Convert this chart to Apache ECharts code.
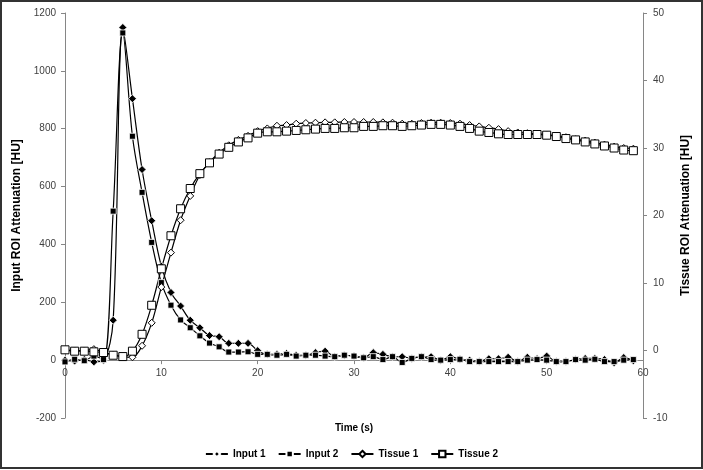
<!DOCTYPE html>
<html>
<head>
<meta charset="utf-8">
<script src="https://cdn.jsdelivr.net/npm/echarts@6/dist/echarts.min.js"></script>
<style>
  html, body { margin: 0; padding: 0; background: #fff; }
  #chart { width: 703px; height: 470px; }
</style>
</head>
<body>
<div id="chart"></div>
<script>
// time in seconds
const time = [0, 1, 2, 3, 4, 5, 6, 7, 8, 9, 10, 11, 12, 13, 14, 15, 16, 17, 18, 19,
  20, 21, 22, 23, 24, 25, 26, 27, 28, 29, 30, 31, 32, 33, 34, 35, 36, 37, 38, 39,
  40, 41, 42, 43, 44, 45, 46, 47, 48, 49, 50, 51, 52, 53, 54, 55, 56, 57, 58, 59];

// left axis, HU
const input1 = [0, -3, 2, -6, 0, 138, 1150, 904, 659, 482, 325, 234, 187, 138, 112, 85, 81, 58, 58, 58,
  33, 20, 20, 23, 17, 17, 26, 31, 12, 17, 14, 8, 26, 20, 12, 12, 6, 12, 12, 0,
  12, 3, 0, -5, 5, 5, 10, -5, 10, 5, 14, -5, -5, 2, 6, 6, 2, -9, 9, -2];
const input2 = [-6, 3, -2, 14, 2, 515, 1131, 774, 580, 407, 268, 190, 139, 112, 84, 59, 46, 28, 28, 29,
  20, 20, 17, 20, 14, 17, 17, 14, 12, 17, 14, 8, 12, 2, 12, -8, 6, 12, 2, 0,
  2, 3, -5, -5, -5, -5, -5, -5, 0, 2, 0, -5, -5, 2, 0, 3, -5, -5, 0, 2];

// right axis, HU
const tissue1 = [0.1, 0.0, 0.0, 0.2, -0.3, -0.6, -0.9, -1.0, 0.7, 4.1, 9.4, 14.5, 19.3, 22.9, 26.0, 27.9, 29.3, 30.4, 31.2, 31.8,
  32.5, 32.9, 33.3, 33.4, 33.6, 33.7, 33.75, 33.8, 33.8, 33.85, 33.85, 33.85, 33.85, 33.8, 33.75, 33.6, 33.6, 33.7, 33.75, 33.75,
  33.7, 33.6, 33.4, 33.2, 33.0, 32.8, 32.5, 32.3, 32.2, 32.1, 32.0, 31.8, 31.6, 31.3, 31.1, 30.8, 30.5, 30.2, 30.0, 29.9];
const tissue2 = [0.1, -0.1, -0.1, -0.2, -0.3, -0.7, -0.9, -0.1, 2.4, 6.7, 12.1, 17.0, 21.0, 24.0, 26.2, 27.8, 29.1, 30.1, 30.9, 31.5,
  32.2, 32.4, 32.4, 32.5, 32.6, 32.7, 32.8, 32.9, 32.9, 33.0, 33.0, 33.2, 33.2, 33.3, 33.3, 33.2, 33.3, 33.4, 33.5, 33.5,
  33.4, 33.2, 32.9, 32.5, 32.3, 32.1, 32.0, 32.0, 32.0, 32.0, 31.9, 31.7, 31.4, 31.2, 30.9, 30.6, 30.3, 30.0, 29.7, 29.6];

const pairs = (ys) => time.map((t, i) => [t, ys[i]]);

const font = '"Liberation Sans", Arial, sans-serif';

const gridTop = 13;
const gridBottom = 52;
const plotHeight = 470 - gridTop - gridBottom;
const leftMin = -200;
const leftMax = 1200;
// lift the time axis up to the zero line of the left axis
const xAxisOffset = -plotHeight * (0 - leftMin) / (leftMax - leftMin);

const chart = echarts.init(document.getElementById('chart'));

const axisLineStyle = { color: '#868686', width: 1 };
const labelStyle = (margin) => ({
  color: '#404040', fontSize: 10, fontFamily: font, margin: margin,
  formatter: (v) => String(v)
});
const nameStyle = (size) => ({ color: '#000', fontSize: size, fontWeight: 'bold', fontFamily: font });

const axisCommon = {
  axisTick: { show: true, inside: false, length: 4, lineStyle: { color: '#868686' } },
  splitLine: { show: false },
  nameLocation: 'middle'
};

const lineSeries = (name, data, yIndex, symbol, size, filled) => ({
  name: name,
  type: 'line',
  yAxisIndex: yIndex,
  data: pairs(data),
  smooth: 0.35,
  symbol: symbol,
  symbolSize: size,
  showSymbol: true,
  lineStyle: { color: '#000', width: 1.2 },
  itemStyle: filled
    ? { color: '#000', borderColor: '#fff', borderWidth: 0.8 }
    : { color: '#fff', borderColor: '#000', borderWidth: 1 },
  emphasis: { disabled: true }
});

const option = {
  animation: false,
  backgroundColor: '#fff',
  textStyle: { fontFamily: font },
  grid: { left: 65, right: 60, top: gridTop, bottom: gridBottom, outerBoundsMode: 'none', containLabel: false },
  graphic: [{
    type: 'rect',
    shape: { x: 1, y: 1, width: 701, height: 467 },
    style: { fill: 'none', stroke: '#333', lineWidth: 2 },
    silent: true
  }],
  legend: {
    top: 444,
    left: 'center',
    itemWidth: 22,
    itemHeight: 8,
    itemGap: 12,
    textStyle: { color: '#000', fontSize: 10, fontWeight: 'bold', fontFamily: font },
    data: ['Input 1', 'Input 2', 'Tissue 1', 'Tissue 2']
  },
  xAxis: Object.assign({}, axisCommon, {
    type: 'value',
    min: 0,
    max: 60,
    interval: 10,
    name: 'Time (s)',
    nameGap: 63,
    nameTextStyle: nameStyle(10),
    position: 'bottom',
    offset: xAxisOffset,
    axisLine: { show: true, onZero: false, lineStyle: axisLineStyle },
    axisLabel: labelStyle(8)
  }),
  yAxis: [
    Object.assign({}, axisCommon, {
      type: 'value',
      position: 'left',
      min: leftMin,
      max: leftMax,
      interval: 200,
      name: 'Input ROI Attenuation [HU]',
      nameRotate: 90,
      nameGap: 42,
      nameTextStyle: nameStyle(12),
      axisLine: { show: true, onZero: false, lineStyle: axisLineStyle },
      axisLabel: labelStyle(9)
    }),
    Object.assign({}, axisCommon, {
      type: 'value',
      position: 'right',
      min: -10,
      max: 50,
      interval: 10,
      name: 'Tissue ROI Attenuation [HU]',
      nameRotate: 90,
      nameGap: 37,
      nameTextStyle: nameStyle(12),
      axisLine: { show: true, onZero: false, lineStyle: axisLineStyle },
      axisLabel: labelStyle(10)
    })
  ],
  series: [
    lineSeries('Input 1', input1, 0, 'diamond', 8, true),
    lineSeries('Input 2', input2, 0, 'rect', 6, true),
    lineSeries('Tissue 1', tissue1, 1, 'diamond', 7, false),
    lineSeries('Tissue 2', tissue2, 1, 'rect', 8, false)
  ]
};

chart.setOption(option);
</script>
</body>
</html>
